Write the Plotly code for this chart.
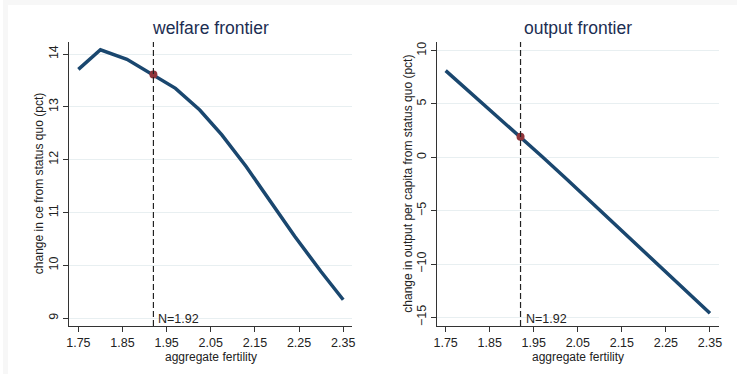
import plotly.graph_objects as go

# Aggregate fertility grid and the two frontiers (percent change from status quo)
fertility = [1.75, 1.80, 1.86, 1.92, 1.97, 2.025, 2.075, 2.13, 2.185, 2.24, 2.30, 2.35]
welfare_ce = [13.71, 14.08, 13.90, 13.61, 13.35, 12.94, 12.47, 11.87, 11.20, 10.55, 9.88, 9.35]
output_pc = [8.13, 6.31, 4.12, 1.93, 0.03, -2.05, -3.97, -6.07, -8.18, -10.30, -12.60, -14.62]

# Status-quo fertility marker
n_status = 1.92
welfare_at_n = 13.61
output_at_n = 1.93

x_ticks = [1.75, 1.85, 1.95, 2.05, 2.15, 2.25, 2.35]
x_tick_text = ["1.75", "1.85", "1.95", "2.05", "2.15", "2.25", "2.35"]
welfare_ticks = [9, 10, 11, 12, 13, 14]
output_ticks = [-15, -10, -5, 0, 5, 10]
output_tick_text = ["\u221215", "\u221210", "\u22125", "0", "5", "10"]

W, H = 740, 374
FONT = "Arial, Liberation Sans, sans-serif"
NAVY = "#1a476f"
MAROON = "#90353b"
TITLE_C = "#1c2e52"
GRID_C = "#e8eff1"
AXIS_C = "#333333"
EDGE_C = "#f7f7f7"
TICK_SIZE = 12.5
LABEL_SIZE = 12
TITLE_SIZE = 17.5


def px(v, total):
    return v / total


top_px, bottom_px = 42, 326
y_dom = [1 - bottom_px / H, 1 - top_px / H]
left_dom = [px(67, W), px(352, W)]
right_dom = [px(437.3, W), px(721.7, W)]

fig = go.Figure()

fig.add_trace(go.Scatter(x=fertility, y=welfare_ce, mode="lines",
                         line=dict(color=NAVY, width=3.5), xaxis="x", yaxis="y",
                         showlegend=False, hoverinfo="skip"))
fig.add_trace(go.Scatter(x=[n_status], y=[welfare_at_n], mode="markers",
                         marker=dict(color=MAROON, size=8), xaxis="x", yaxis="y",
                         showlegend=False))
fig.add_trace(go.Scatter(x=fertility, y=output_pc, mode="lines",
                         line=dict(color=NAVY, width=3.5), xaxis="x2", yaxis="y2",
                         showlegend=False, hoverinfo="skip"))
fig.add_trace(go.Scatter(x=[n_status], y=[output_at_n], mode="markers",
                         marker=dict(color=MAROON, size=8), xaxis="x2", yaxis="y2",
                         showlegend=False))

x_common = dict(range=[1.7298, 2.3702], tickvals=x_ticks, ticktext=x_tick_text,
                ticks="outside", ticklen=5, tickcolor=AXIS_C, showline=True,
                linecolor=AXIS_C, linewidth=1, showgrid=False, zeroline=False,
                tickfont=dict(family=FONT, size=TICK_SIZE, color="#222"))
y_common = dict(ticks="outside", ticklen=5, tickcolor=AXIS_C, showline=True,
                linecolor=AXIS_C, linewidth=1, showgrid=True, gridcolor=GRID_C,
                gridwidth=1, zeroline=False, tickangle=-90,
                tickfont=dict(family=FONT, size=TICK_SIZE, color="#222"))

shapes = [
    # thin light strips along the top and left edges of the canvas
    dict(type="rect", xref="paper", yref="paper", x0=0, x1=1, y0=1 - 5 / H, y1=1,
         fillcolor=EDGE_C, line=dict(width=0), layer="below"),
    dict(type="rect", xref="paper", yref="paper", x0=0, x1=5 / W, y0=0, y1=1,
         fillcolor=EDGE_C, line=dict(width=0), layer="below"),
    dict(type="line", xref="x", yref="y domain", x0=n_status, x1=n_status, y0=0, y1=1,
         line=dict(color="#222", width=1.2, dash="6px,3px")),
    dict(type="line", xref="x2", yref="y2 domain", x0=n_status, x1=n_status, y0=0, y1=1,
         line=dict(color="#222", width=1.2, dash="6px,3px")),
]


def ann(text, x, y, size, color="#222", angle=0, xanchor="center", xref="paper", yref="paper"):
    return dict(text=text, x=x, y=y, xref=xref, yref=yref, showarrow=False,
                textangle=angle, xanchor=xanchor, yanchor="middle",
                font=dict(family=FONT, size=size, color=color))


annotations = [
    ann("welfare frontier", px(209.5, W), 1 - 28 / H, TITLE_SIZE, TITLE_C),
    ann("output frontier", px(579.5, W), 1 - 28 / H, TITLE_SIZE, TITLE_C),
    ann("aggregate fertility", px(209.5, W), 1 - 357 / H, LABEL_SIZE),
    ann("aggregate fertility", px(579.5, W), 1 - 357 / H, LABEL_SIZE),
    ann("change in ce from status quo (pct)", px(36.5, W), 1 - 184 / H, LABEL_SIZE, angle=-90),
    ann("change in output per capita from status quo (pct)", px(408, W), 1 - 184 / H,
        LABEL_SIZE, angle=-90),
    dict(text="N=1.92", x=n_status, y=1 - 318.5 / H, xref="x", yref="paper", xshift=3,
         showarrow=False, xanchor="left", yanchor="middle",
         font=dict(family=FONT, size=TICK_SIZE, color="#222")),
    dict(text="N=1.92", x=n_status, y=1 - 318.5 / H, xref="x2", yref="paper", xshift=3,
         showarrow=False, xanchor="left", yanchor="middle",
         font=dict(family=FONT, size=TICK_SIZE, color="#222")),
]

fig.update_layout(
    width=W, height=H,
    margin=dict(l=0, r=0, t=0, b=0),
    paper_bgcolor="white",
    plot_bgcolor="white",
    xaxis=dict(domain=left_dom, anchor="y", **x_common),
    yaxis=dict(domain=y_dom, anchor="x", range=[8.853, 14.227], tickvals=welfare_ticks,
               **y_common),
    xaxis2=dict(domain=right_dom, anchor="y2", **x_common),
    yaxis2=dict(domain=y_dom, anchor="x2", range=[-15.81, 10.81], tickvals=output_ticks,
                ticktext=output_tick_text, **y_common),
    shapes=shapes,
    annotations=annotations,
    font=dict(family=FONT),
)

fig.write_html("out.html")
